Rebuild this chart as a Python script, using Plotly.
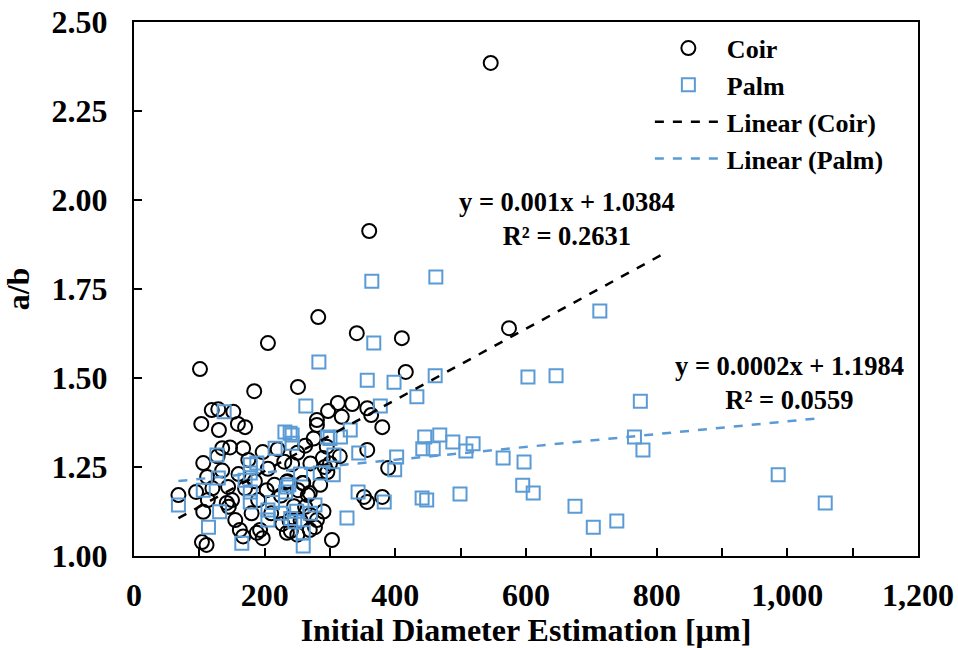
import plotly.graph_objects as go

# ---- data ----
coir_x = [546, 360, 282, 574, 341, 410, 205, 101, 416, 184, 251,
          119, 129, 152, 103, 130, 159, 170,
          312, 334, 297, 357, 363, 318, 280, 280, 380,
          357, 389, 295, 292, 296, 352, 357, 380, 303,
          266, 262, 280, 277, 270, 242, 258, 238,
          135, 147, 167, 197, 106, 112, 135, 205,
          68, 106, 113, 142, 150, 155, 145, 203, 190,
          162, 167, 188, 197, 104, 111, 227, 240, 250,
          220, 230, 215, 225, 262, 270, 250, 235,
          120, 160, 185, 175, 285, 300, 315, 275, 245, 210, 128, 95, 180, 170, 290, 255,
          234, 251, 259, 269, 289, 193, 234, 269, 144]
coir_y = [2.385, 1.913, 1.671, 1.640, 1.626, 1.612, 1.598, 1.525, 1.517, 1.463, 1.475,
          1.410, 1.412, 1.405, 1.371, 1.354, 1.371, 1.362,
          1.430, 1.427, 1.407, 1.415, 1.396, 1.391, 1.382, 1.368, 1.362,
          1.298, 1.247, 1.307, 1.250, 1.236, 1.166, 1.152, 1.166, 1.045,
          1.171, 1.138, 1.101, 1.081, 1.115, 1.258, 1.205, 1.100,
          1.303, 1.305, 1.303, 1.292, 1.261, 1.222, 1.240, 1.245,
          1.171, 1.124, 1.157, 1.149, 1.157, 1.101, 1.138, 1.185, 1.157,
          1.073, 1.055, 1.065, 1.050, 1.039, 1.031, 1.090, 1.070, 1.060,
          1.300, 1.265, 1.200, 1.170, 1.310, 1.260, 1.290, 1.210,
          1.190, 1.230, 1.210, 1.270, 1.200, 1.260, 1.280, 1.330, 1.140, 1.120, 1.280, 1.180, 1.120, 1.190, 1.125, 1.100,
          1.208, 1.185, 1.205, 1.177, 1.275, 1.073, 1.065, 1.073, 1.194]

palm_x = [462, 364, 713, 367, 283, 646, 603, 461, 357, 398, 775, 433, 377, 263, 138, 231,
          766, 779, 468, 488, 519, 508, 458, 445, 442, 565, 597, 441, 448, 499, 595, 611, 675, 703, 739, 986, 1058,
          331, 239, 242, 296, 316, 344, 402, 399, 306, 305, 285, 343, 383, 326, 277, 246, 249, 259, 259,
          127, 216, 178, 188, 129, 170, 178, 106, 178, 178, 68, 131, 205, 205, 114, 165,
          225, 240, 237, 255, 212, 300, 270, 232, 234, 242]
palm_y = [1.784, 1.772, 1.688, 1.598, 1.545, 1.506, 1.503, 1.506, 1.494, 1.488, 1.435, 1.447, 1.421, 1.421, 1.405, 1.348,
          1.334, 1.298, 1.340, 1.320, 1.315, 1.295, 1.301, 1.334, 1.301, 1.275, 1.264, 1.163, 1.157, 1.174, 1.199, 1.177, 1.140, 1.081, 1.098, 1.228, 1.149,
          1.354, 1.345, 1.340, 1.334, 1.334, 1.289, 1.278, 1.242, 1.284, 1.228, 1.233, 1.180, 1.152, 1.107, 1.143, 1.096, 1.126, 1.065, 1.028,
          1.284, 1.303, 1.256, 1.261, 1.219, 1.213, 1.233, 1.185, 1.180, 1.152, 1.143, 1.124, 1.129, 1.101, 1.081, 1.036,
          1.120, 1.105, 1.200, 1.230, 1.150, 1.330, 1.120, 1.180, 1.194, 1.317]

# trend lines: slope, intercept, x-range
coir_fit = {"slope": 0.001, "intercept": 1.0384, "x0": 68, "x1": 813}
palm_fit = {"slope": 0.00018, "intercept": 1.1984, "x0": 68, "x1": 1050}
coir_eq = "y = 0.001x + 1.0384<br>R² = 0.2631"
palm_eq = "y = 0.0002x + 1.1984<br>R² = 0.0559"

x_ticks = [0, 200, 400, 600, 800, 1000, 1200]
y_ticks = [1.00, 1.25, 1.50, 1.75, 2.00, 2.25, 2.50]

BLACK = "#000000"
BLUE = "#5B9BD5"
FONT = "Liberation Serif"

def line_of(fit):
    xs = [fit["x0"], fit["x1"]]
    ys = [fit["slope"] * v + fit["intercept"] for v in xs]
    return xs, ys

fig = go.Figure()
fig.add_trace(go.Scatter(x=coir_x, y=coir_y, mode="markers", name="Coir",
                         marker=dict(symbol="circle-open", size=14, color=BLACK,
                                     line=dict(width=2, color=BLACK))))
fig.add_trace(go.Scatter(x=palm_x, y=palm_y, mode="markers", name="Palm",
                         marker=dict(symbol="square-open", size=13, color=BLUE,
                                     line=dict(width=2, color=BLUE))))
cx, cy = line_of(coir_fit)
fig.add_trace(go.Scatter(x=cx, y=cy, mode="lines", name="Linear (Coir)",
                         line=dict(color=BLACK, width=2.5, dash="dash")))
px_, py_ = line_of(palm_fit)
fig.add_trace(go.Scatter(x=px_, y=py_, mode="lines", name="Linear (Palm)",
                         line=dict(color=BLUE, width=2.5, dash="dash")))

fig.add_annotation(x=663, y=1.947, xref="x", yref="y", text=coir_eq, showarrow=False,
                   align="center", font=dict(family=FONT, size=26.5, color=BLACK, weight="bold"))
fig.add_annotation(x=1004, y=1.485, xref="x", yref="y", text=palm_eq, showarrow=False,
                   align="center", font=dict(family=FONT, size=26.5, color=BLACK, weight="bold"))

BIG = 32
axis_common = dict(showgrid=False, zeroline=False, showline=True, linecolor=BLACK,
                   linewidth=2, mirror=True, ticks="inside", ticklen=8, tickwidth=2,
                   tickcolor=BLACK,
                   tickfont=dict(family=FONT, size=BIG, color=BLACK, weight="bold"))

fig.update_xaxes(range=[0, 1200], tickvals=x_ticks, tickformat=",d",
                 minor=dict(dtick=100, ticks="inside", ticklen=8, tickwidth=2, tickcolor=BLACK),
                 ticklabelstandoff=10,
                 title=dict(text="<b>Initial Diameter Estimation [µm]</b>", standoff=7,
                            font=dict(family=FONT, size=BIG, color=BLACK, weight="bold")),
                 **axis_common)
fig.update_yaxes(range=[1.0, 2.5], tickvals=y_ticks, tickformat=".2f",
                 ticklabelstandoff=18,
                 title=dict(text="<b>a/b</b>", standoff=22,
                            font=dict(family=FONT, size=BIG, color=BLACK, weight="bold")),
                 **axis_common)

fig.update_layout(
    width=958, height=648,
    margin=dict(l=134, r=40, t=22, b=92, autoexpand=False),
    paper_bgcolor="white", plot_bgcolor="white",
    font=dict(family=FONT, size=26, color=BLACK, weight="bold"),
    legend=dict(x=0.658, y=0.995, xanchor="left", yanchor="top",
                bgcolor="rgba(0,0,0,0)", itemwidth=67,
                font=dict(family=FONT, size=26, color=BLACK, weight="bold"),
                tracegroupgap=0),
    showlegend=True,
)

fig.write_html("out.html")
